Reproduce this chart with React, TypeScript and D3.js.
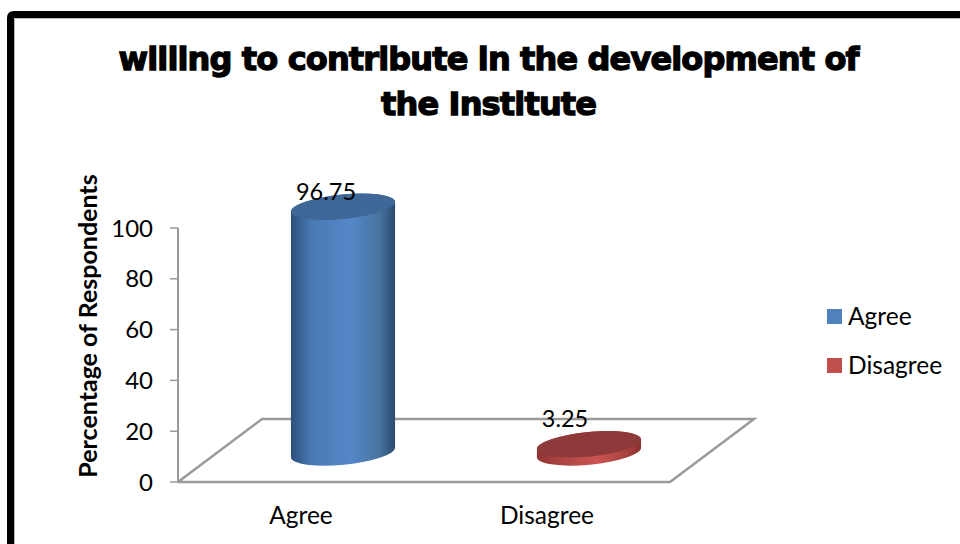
import * as d3 from 'd3';

const categories = ['Agree', 'Disagree'];
const values = [96.75, 3.25];
const valueLabels = ['96.75', '3.25'];
const yTicks = [0, 20, 40, 60, 80, 100];
const titleLines = ['willing to contribute in the development of', 'the Institute'];
const yTitle = 'Percentage of Respondents';

const width = 960;
const height = 544;
const font = 'Lato, "Open Sans", sans-serif';
const grey = '#9a9a9a';

const left = 178;
const right = 670;
const bottom = 482;
const top = 228;
// 3d floor offset
const depthX = 84;
const depthY = -63;

const xScale = d3.scaleBand<string>().domain(categories).range([left, right]);
const yScale = d3.scaleLinear().domain([0, 100]).range([bottom, top]);

const seriesColors = ['#4f81bd', '#c0504d'];
const topColors = ['#3f6797', '#8e3a3a'];
const edgeColors = [
    ['#2d4f7c', '#4a7ab5', '#5587c8', '#47739f', '#2b4a70'],
    ['#8e3331', '#a84340', '#cc5552', '#a84340', '#8a3230'],
];
// where each value label sits relative to its bar top
const labelDx = [25, 18];
const labelDy = [-36, -47];

const rx = 52.3;
const ry = 12.2;
const tilt = -5.5;
const tiltDy = Math.sin((tilt * Math.PI) / 180) * rx;

const Cylinder: React.FC<{ i: number }> = ({ i }) => {
    const cx = xScale(categories[i])! + xScale.bandwidth() / 2 + 42;
    const baseY = yScale(0) - 29.5;
    const topY = baseY - (yScale(0) - yScale(values[i]));
    const lx = cx - rx * Math.cos((tilt * Math.PI) / 180);
    const rxx = cx + rx * Math.cos((tilt * Math.PI) / 180);
    const body =
        `M${lx},${topY - tiltDy} L${lx},${baseY - tiltDy} ` +
        `A${rx},${ry} ${tilt} 0 0 ${rxx},${baseY + tiltDy} ` +
        `L${rxx},${topY + tiltDy} A${rx},${ry} ${tilt} 0 0 ${lx},${topY - tiltDy} Z`;
    return (
        <g>
            <path d={body} fill={`url(#side${i})`} />
            <ellipse
                cx={cx}
                cy={topY}
                rx={rx}
                ry={ry}
                fill={topColors[i]}
                transform={`rotate(${tilt} ${cx} ${topY})`}
            />
        </g>
    );
};

export default function App() {
    const floor = d3.line()([
        [left, bottom],
        [right, bottom],
        [right + depthX, bottom + depthY],
        [left + depthX, bottom + depthY],
        [left, bottom],
    ])!;

    return (
        <svg
            width={width}
            height={height}
            style={{ position: 'absolute', left: 0, top: 0, background: '#fff' }}
            fontFamily={font}
        >
            <defs>
                {edgeColors.map((stops, i) => (
                    <linearGradient key={i} id={`side${i}`} x1="0" x2="1" y1="0" y2="0">
                        {stops.map((c, j) => (
                            <stop key={j} offset={[0, 0.2, 0.58, 0.85, 1][j]} stopColor={c} />
                        ))}
                    </linearGradient>
                ))}
            </defs>

            {/* page frame, runs off to the right */}
            <path d="M970,18.5 L14.5,18.5 L14.5,554" fill="none" stroke="#bbb" strokeWidth={1} />
            <path
                d="M970,14.5 L14,14.5 Q10.5,14.5 10.5,18 L10.5,554"
                fill="none"
                stroke="#000"
                strokeWidth={7}
            />

            {titleLines.map((t, i) => (
                <text
                    key={i}
                    x={489}
                    y={70 + i * 45}
                    textAnchor="middle"
                    fontFamily='"DejaVu Sans", sans-serif'
                    fontWeight={700}
                    fontSize={32}
                    stroke="#000"
                    strokeWidth={1.3}
                    textLength={i === 0 ? 741 : 216}
                    lengthAdjust="spacing"
                >
                    {t}
                </text>
            ))}

            <text
                transform={`translate(97,326) rotate(-90)`}
                textAnchor="middle"
                fontWeight={700}
                fontSize={25}
            >
                {yTitle}
            </text>

            <path d={floor} fill="none" stroke={grey} strokeWidth={2.5} />
            <line x1={left} x2={left} y1={top} y2={bottom} stroke={grey} strokeWidth={2} />
            {yTicks.map(t => (
                <g key={t}>
                    <line x1={170} x2={left} y1={yScale(t)} y2={yScale(t)} stroke={grey} strokeWidth={1.5} />
                    <text x={153} y={yScale(t) + 8.5} textAnchor="end" fontSize={24}>
                        {t}
                    </text>
                </g>
            ))}

            {categories.map((c, i) => (
                <Cylinder key={c} i={i} />
            ))}

            {categories.map((c, i) => {
                const cx = xScale(c)! + xScale.bandwidth() / 2;
                return (
                    <g key={c}>
                        <text x={cx} y={524} textAnchor="middle" fontSize={24.5}>
                            {c}
                        </text>
                        <text
                            x={cx + labelDx[i]}
                            y={yScale(values[i]) + labelDy[i]}
                            textAnchor="middle"
                            fontSize={23.5}
                        >
                            {valueLabels[i]}
                        </text>
                    </g>
                );
            })}

            {categories.map((c, i) => (
                <g key={c} transform={`translate(827,${309 + i * 49})`}>
                    <rect width={15} height={15} fill={seriesColors[i]} />
                    <text x={21} y={16} fontSize={24.5}>
                        {c}
                    </text>
                </g>
            ))}
        </svg>
    );
}
